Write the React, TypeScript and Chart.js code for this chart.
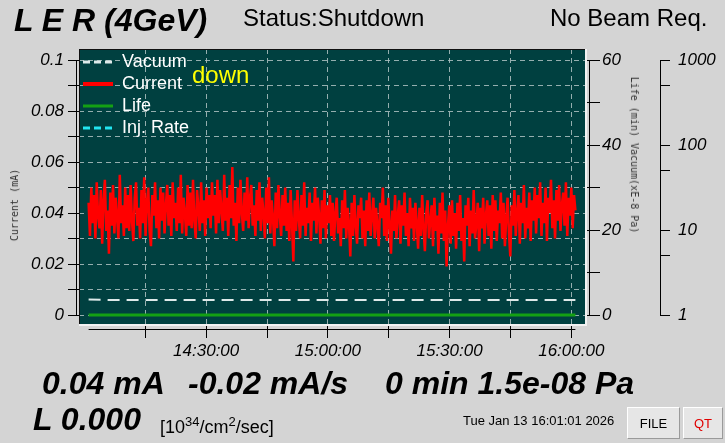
import React, { useEffect, useRef } from 'react';
import { Chart, registerables } from 'chart.js';

Chart.register(...registerables);

// ---------------- data ----------------
const SERIES_LABELS = ['Vacuum', 'Current', 'Life', 'Inj. Rate'];

// sample window (minutes after midnight): 14:01:01 .. 16:01:01
const T_START = 14 * 60 + 1 + 1 / 60;
const T_END = 16 * 60 + 1 + 1 / 60;

// beam current (mA), evenly sampled over the window
const CURRENT_MA = [
  0.044, 0.031, 0.050, 0.036, 0.047, 0.030, 0.052, 0.039, 0.034, 0.049, 0.028, 0.045, 0.053, 0.033, 0.041, 0.024, 0.048, 0.035, 0.051, 0.032, 0.046, 0.038, 0.030, 0.055, 0.036, 0.043, 0.031, 0.050, 0.034, 0.047,
  0.033, 0.051, 0.037, 0.029, 0.046, 0.052, 0.035, 0.042, 0.030, 0.049, 0.036, 0.054, 0.031, 0.044, 0.050, 0.033, 0.027, 0.047, 0.039, 0.052, 0.034, 0.045, 0.030, 0.050, 0.037, 0.048, 0.032, 0.043, 0.051, 0.035,
  0.047, 0.031, 0.052, 0.038, 0.044, 0.033, 0.050, 0.036, 0.055, 0.032, 0.046, 0.040, 0.031, 0.051, 0.035, 0.048, 0.034, 0.053, 0.037, 0.030, 0.049, 0.042, 0.033, 0.052, 0.036, 0.045, 0.031, 0.050, 0.038, 0.047,
  0.034, 0.052, 0.039, 0.047, 0.032, 0.053, 0.036, 0.049, 0.041, 0.033, 0.055, 0.037, 0.046, 0.031, 0.051, 0.038, 0.058, 0.035, 0.044, 0.029, 0.050, 0.036, 0.053, 0.040, 0.033, 0.048, 0.037, 0.054, 0.034, 0.046,
  0.051, 0.035, 0.043, 0.031, 0.049, 0.037, 0.052, 0.033, 0.046, 0.040, 0.030, 0.050, 0.036, 0.054, 0.032, 0.045, 0.038, 0.027, 0.048, 0.034, 0.051, 0.039, 0.031, 0.047, 0.035, 0.050, 0.033, 0.044, 0.029, 0.049,
  0.036, 0.021, 0.045, 0.033, 0.049, 0.038, 0.030, 0.047, 0.035, 0.052, 0.031, 0.042, 0.036, 0.048, 0.029, 0.044, 0.037, 0.050, 0.032, 0.046, 0.039, 0.028, 0.045, 0.034, 0.049, 0.030, 0.043, 0.036, 0.047, 0.031,
  0.044, 0.029, 0.040, 0.046, 0.032, 0.038, 0.027, 0.045, 0.034, 0.049, 0.030, 0.042, 0.036, 0.023, 0.044, 0.031, 0.047, 0.035, 0.028, 0.043, 0.038, 0.046, 0.030, 0.041, 0.027, 0.045, 0.033, 0.048, 0.031, 0.039,
  0.046, 0.030, 0.042, 0.035, 0.027, 0.044, 0.038, 0.050, 0.031, 0.043, 0.029, 0.046, 0.036, 0.024, 0.041, 0.033, 0.047, 0.030, 0.039, 0.045, 0.028, 0.043, 0.035, 0.048, 0.031, 0.040, 0.027, 0.046, 0.034, 0.042,
  0.029, 0.044, 0.036, 0.026, 0.042, 0.031, 0.047, 0.034, 0.025, 0.040, 0.045, 0.030, 0.037, 0.043, 0.027, 0.046, 0.033, 0.039, 0.024, 0.044, 0.032, 0.048, 0.029, 0.041, 0.019, 0.035, 0.043, 0.028, 0.045, 0.031,
  0.040, 0.026, 0.044, 0.033, 0.047, 0.029, 0.038, 0.021, 0.043, 0.035, 0.046, 0.027, 0.041, 0.032, 0.049, 0.030, 0.036, 0.044, 0.025, 0.042, 0.034, 0.046, 0.028, 0.039, 0.045, 0.031, 0.043, 0.026, 0.047, 0.033,
  0.045, 0.029, 0.041, 0.036, 0.048, 0.030, 0.044, 0.027, 0.038, 0.046, 0.032, 0.023, 0.043, 0.035, 0.049, 0.031, 0.040, 0.047, 0.028, 0.044, 0.036, 0.051, 0.030, 0.042, 0.034, 0.048, 0.029, 0.045, 0.037, 0.050,
  0.032, 0.047, 0.038, 0.052, 0.031, 0.044, 0.036, 0.050, 0.029, 0.046, 0.040, 0.053, 0.034, 0.045, 0.030, 0.049, 0.037, 0.051, 0.033, 0.043, 0.048, 0.035, 0.052, 0.031, 0.046, 0.039, 0.050, 0.034, 0.047, 0.041,
];

// vacuum (x1e-8 Pa), every 5 minutes
const VACUUM_XE8PA = [
  1.52, 1.5, 1.5, 1.5, 1.5, 1.5, 1.5, 1.5, 1.5, 1.5, 1.5, 1.5, 1.5,
  1.5, 1.5, 1.5, 1.5, 1.5, 1.5, 1.5, 1.5, 1.5, 1.5, 1.5, 1.5,
];

// beam life (min), every 10 minutes
const LIFE_MIN = [0, 0, 0, 0, 0, 0, 0, 0, 0, 0, 0, 0, 0];

// injection rate: no samples in window
const INJ_RATE: number[] = [];

// ticks
const TIME_TICKS = [855, 870, 885, 900, 915, 930, 945, 960];
const TIME_TICK_LABELS = ['', '14:30:00', '', '15:00:00', '', '15:30:00', '', '16:00:00'];
const CURRENT_TICKS = [0, 0.01, 0.02, 0.03, 0.04, 0.05, 0.06, 0.07, 0.08, 0.09, 0.1];
const CURRENT_TICK_LABELS = ['0', '', '0.02', '', '0.04', '', '0.06', '', '0.08', '', '0.1'];
const LIFE_TICKS = [0, 10, 20, 30, 40, 50, 60];
const LIFE_TICK_LABELS = ['0', '', '20', '', '40', '', '60'];
const VAC_TICKS = [1, 5, 10, 50, 100, 500, 1000];
const VAC_TICK_LABELS = ['1', '', '10', '', '100', '', '1000'];

// ---------------- layout / style ----------------
const W = 725;
const H = 443;
const BOX = { left: 79, right: 587, top: 49, bottom: 326 };
const AXIS_TOP_PX = 60;
const AXIS_BOTTOM_PX = 315;
const TIME_LEFT_PX = 88.6;
const TIME_RIGHT_PX = 575.4;
const LOG_AXIS_X = 660;

const FONT = '"Liberation Sans", Arial, Helvetica, sans-serif';
const MONO = '"DejaVu Sans Mono", monospace';
const PAGE_BG = '#d4d4d4';
const PLOT_BG = '#004040';
const GRID = 'rgba(175,195,195,0.85)';

function linRange(lo: number, hi: number) {
  const vpp = (hi - lo) / (AXIS_BOTTOM_PX - AXIS_TOP_PX);
  return { min: lo - (BOX.bottom - AXIS_BOTTOM_PX) * vpp, max: hi + (AXIS_TOP_PX - BOX.top) * vpp };
}
function logRange(lo: number, hi: number) {
  const r = linRange(Math.log10(lo), Math.log10(hi));
  return { min: Math.pow(10, r.min), max: Math.pow(10, r.max) };
}
const X_VPP = (T_END - T_START) / (TIME_RIGHT_PX - TIME_LEFT_PX);
const X_RANGE = { min: T_START - (TIME_LEFT_PX - BOX.left) * X_VPP, max: T_END + (BOX.right - TIME_RIGHT_PX) * X_VPP };
const Y_RANGE = linRange(0, 0.1);
const YR_RANGE = linRange(0, 60);
const YLOG_RANGE = logRange(1, 1000);

const sampled = (vals: number[]) =>
  vals.map((y, i) => ({ x: T_START + (i * (T_END - T_START)) / Math.max(vals.length - 1, 1), y }));

const tickFont = { family: FONT, size: 17, style: 'italic' as const };
const LEGEND_DASH: number[][] = [[7, 4], [], [], [7, 4]];
const LEGEND_WIDTH = [3, 4, 3, 3];

const plotBoxPlugin = {
  id: 'plotBox',
  beforeDraw(chart: any) {
    const { ctx, chartArea: a } = chart;
    ctx.save();
    ctx.fillStyle = PLOT_BG;
    ctx.fillRect(a.left, a.top, a.right - a.left, a.bottom - a.top);
    ctx.restore();
  },
  beforeDatasetsDraw(chart: any) {
    const { ctx, chartArea: a } = chart;
    ctx.save();
    ctx.fillStyle = '#101010';
    ctx.fillRect(a.left, a.top, a.right - a.left, 1);
    ctx.fillRect(a.left, a.top, 1, a.bottom - a.top);
    ctx.fillStyle = '#f2f2f2';
    ctx.fillRect(a.left, a.bottom - 2, a.right - a.left, 2);
    ctx.fillRect(a.right - 2, a.top, 2, a.bottom - a.top);
    ctx.restore();
  },
};

const axisLinesPlugin = {
  id: 'axisLines',
  afterDraw(chart: any) {
    const { ctx, chartArea: a, scales } = chart;
    const line = (x1: number, y1: number, x2: number, y2: number) => {
      ctx.beginPath();
      ctx.moveTo(x1, y1);
      ctx.lineTo(x2, y2);
      ctx.stroke();
    };
    ctx.save();
    ctx.strokeStyle = '#000';
    ctx.lineWidth = 1;
    const yl = scales.y;
    line(a.left - 2.5, yl.getPixelForValue(CURRENT_TICKS[CURRENT_TICKS.length - 1]), a.left - 2.5, yl.getPixelForValue(CURRENT_TICKS[0]));
    const yr = scales.yR;
    line(a.right + 2.5, yr.getPixelForValue(LIFE_TICKS[LIFE_TICKS.length - 1]), a.right + 2.5, yr.getPixelForValue(LIFE_TICKS[0]));
    const yg = scales.yLog;
    line(yg.left + 0.5, yg.getPixelForValue(VAC_TICKS[VAC_TICKS.length - 1]), yg.left + 0.5, yg.getPixelForValue(VAC_TICKS[0]));
    const xs = scales.x;
    line(xs.getPixelForValue(T_START), a.bottom + 3.5, xs.getPixelForValue(T_END), a.bottom + 3.5);
    ctx.restore();
  },
};

function LerChart() {
  const ref = useRef<HTMLCanvasElement | null>(null);
  useEffect(() => {
    if (!ref.current) return;
    const colors = ['#dde9e9', '#ff0000', '#14a014', '#22e6f2'];
    const chart = new Chart(ref.current, {
      type: 'line',
      data: {
        datasets: [
          { label: SERIES_LABELS[0], data: sampled(VACUUM_XE8PA), yAxisID: 'yLog', borderColor: colors[0], borderWidth: 2, borderDash: [12, 7], pointRadius: 0, tension: 0 },
          { label: SERIES_LABELS[1], data: sampled(CURRENT_MA), yAxisID: 'y', borderColor: colors[1], borderWidth: 2.5, pointRadius: 0, tension: 0 },
          { label: SERIES_LABELS[2], data: sampled(LIFE_MIN), yAxisID: 'yR', borderColor: colors[2], borderWidth: 3, pointRadius: 0, tension: 0 },
          { label: SERIES_LABELS[3], data: sampled(INJ_RATE), yAxisID: 'yR', borderColor: colors[3], borderWidth: 2, borderDash: [7, 4], pointRadius: 0, tension: 0 },
        ],
      },
      options: {
        responsive: false,
        animation: false,
        devicePixelRatio: 1,
        events: [],
        layout: { autoPadding: false, padding: { left: 0, top: BOX.top, right: 0, bottom: 0 } },
        plugins: {
          tooltip: { enabled: false },
          legend: {
            position: 'chartArea',
            align: 'start',
            // empty title used as a spacer: the in-plot legend measures from the canvas top
            title: { display: true, text: '', padding: 0, font: { size: BOX.top, lineHeight: 1 } },
            labels: {
              color: '#ffffff',
              font: { family: FONT, size: 18, lineHeight: 17 / 18 },
              usePointStyle: true,
              pointStyle: 'line',
              pointStyleWidth: 30,
              padding: 4,
              generateLabels: (c: any) =>
                c.data.datasets.map((ds: any, i: number) => ({
                  text: ds.label,
                  fillStyle: ds.borderColor,
                  strokeStyle: ds.borderColor,
                  fontColor: '#ffffff',
                  lineWidth: LEGEND_WIDTH[i],
                  lineDash: LEGEND_DASH[i],
                  pointStyle: 'line',
                  hidden: false,
                  datasetIndex: i,
                })),
            },
          },
        },
        scales: {
          x: {
            type: 'linear',
            position: 'bottom',
            min: X_RANGE.min,
            max: X_RANGE.max,
            bounds: 'data',
            afterBuildTicks: (s: any) => { s.ticks = TIME_TICKS.map((value) => ({ value })); },
            afterFit: (s: any) => { s.height = H - BOX.bottom; },
            border: { display: false, dash: [5, 4] },
            grid: { color: GRID, lineWidth: 1, tickLength: 12, tickColor: '#000', tickWidth: 1, tickBorderDash: [] },
            ticks: { font: tickFont, color: '#000', padding: 3, autoSkip: false, maxRotation: 0, minRotation: 0, callback: (_v: any, i: number) => TIME_TICK_LABELS[i] },
          },
          y: {
            type: 'linear',
            position: 'left',
            min: Y_RANGE.min,
            max: Y_RANGE.max,
            bounds: 'data',
            afterBuildTicks: (s: any) => { s.ticks = CURRENT_TICKS.map((value) => ({ value })); },
            afterFit: (s: any) => { s.width = BOX.left; },
            border: { display: false, dash: [5, 4] },
            grid: { color: GRID, lineWidth: 1, tickLength: 11, tickColor: '#000', tickWidth: 1, tickBorderDash: [] },
            ticks: { font: tickFont, color: '#000', padding: 4, autoSkip: false, callback: (_v: any, i: number) => CURRENT_TICK_LABELS[i] },
          },
          yR: {
            type: 'linear',
            position: 'right',
            weight: 1,
            min: YR_RANGE.min,
            max: YR_RANGE.max,
            bounds: 'data',
            afterBuildTicks: (s: any) => { s.ticks = LIFE_TICKS.map((value) => ({ value })); },
            afterFit: (s: any) => { s.width = LOG_AXIS_X - BOX.right; },
            border: { display: false },
            grid: { drawOnChartArea: false, color: '#000', tickLength: 13, tickColor: '#000', tickWidth: 1 },
            ticks: { font: tickFont, color: '#000', padding: 2, autoSkip: false, callback: (_v: any, i: number) => LIFE_TICK_LABELS[i] },
          },
          yLog: {
            type: 'logarithmic',
            position: 'right',
            weight: 2,
            min: YLOG_RANGE.min,
            max: YLOG_RANGE.max,
            bounds: 'data',
            afterBuildTicks: (s: any) => { s.ticks = VAC_TICKS.map((value) => ({ value })); },
            afterFit: (s: any) => { s.width = W - LOG_AXIS_X; },
            border: { display: false },
            grid: { drawOnChartArea: false, color: '#000', tickLength: 10, tickColor: '#000', tickWidth: 1 },
            ticks: { font: tickFont, color: '#000', padding: 8, autoSkip: false, callback: (_v: any, i: number) => VAC_TICK_LABELS[i] },
          },
        },
      },
      plugins: [plotBoxPlugin, axisLinesPlugin],
    } as any);
    return () => chart.destroy();
  }, []);
  return <canvas ref={ref} width={W} height={H} style={{ position: 'absolute', left: 0, top: 0, width: W, height: H }} />;
}

const txt = (left: number, top: number, size: number, extra: React.CSSProperties = {}): React.CSSProperties => ({
  position: 'absolute',
  left,
  top,
  fontSize: size,
  lineHeight: `${size}px`,
  whiteSpace: 'pre',
  fontFamily: FONT,
  color: '#000',
  ...extra,
});

const btn = (left: number, width: number, color: string): React.CSSProperties => ({
  position: 'absolute',
  left,
  top: 407,
  width,
  height: 32,
  boxSizing: 'border-box',
  background: '#e6e6e6',
  borderTop: '1px solid #ffffff',
  borderLeft: '1px solid #ffffff',
  borderRight: '1px solid #9a9a9a',
  borderBottom: '1px solid #9a9a9a',
  display: 'flex',
  alignItems: 'center',
  justifyContent: 'center',
  fontFamily: FONT,
  fontSize: 13,
  color,
});

export default function App() {
  const bi: React.CSSProperties = { fontWeight: 'bold', fontStyle: 'italic' };
  return (
    <div style={{ position: 'absolute', left: 0, top: 0, width: W, height: H, background: PAGE_BG, overflow: 'hidden' }}>
      <LerChart />
      <div style={txt(14, 4, 32, bi)}>L E R (4GeV)</div>
      <div style={txt(243, 6, 24)}>Status:Shutdown</div>
      <div style={txt(550, 6, 24)}>No Beam Req.</div>
      <div style={txt(192, 63, 24, { color: '#ffff00' })}>down</div>
      <div
        style={{
          position: 'absolute', left: 15, top: 205, transform: 'translate(-50%, -50%) rotate(-90deg)',
          fontFamily: MONO, fontSize: 10, lineHeight: '10px', whiteSpace: 'pre', color: '#333',
        }}
      >
        Current (mA)
      </div>
      <div
        style={{
          position: 'absolute', left: 634, top: 155, transform: 'translate(-50%, -50%) rotate(90deg)',
          fontFamily: MONO, fontSize: 10, lineHeight: '10px', whiteSpace: 'pre', color: '#333',
        }}
      >
        Life (min) Vacuum(xE-8 Pa)
      </div>
      <div style={txt(42, 367, 32, bi)}>0.04 mA</div>
      <div style={txt(188, 367, 32, bi)}>-0.02 mA/s</div>
      <div style={txt(385, 367, 32, bi)}>0 min 1.5e-08 Pa</div>
      <div style={txt(33, 403, 32, bi)}>L 0.000</div>
      <div style={txt(160, 413, 18)}>
        [10<sup style={{ fontSize: 13 }}>34</sup>/cm<sup style={{ fontSize: 13 }}>2</sup>/sec]
      </div>
      <div style={txt(463, 414, 13)}>Tue Jan 13 16:01:01 2026</div>
      <div style={btn(627, 53, '#000')}>FILE</div>
      <div style={btn(683, 40, '#e00000')}>QT</div>
    </div>
  );
}
